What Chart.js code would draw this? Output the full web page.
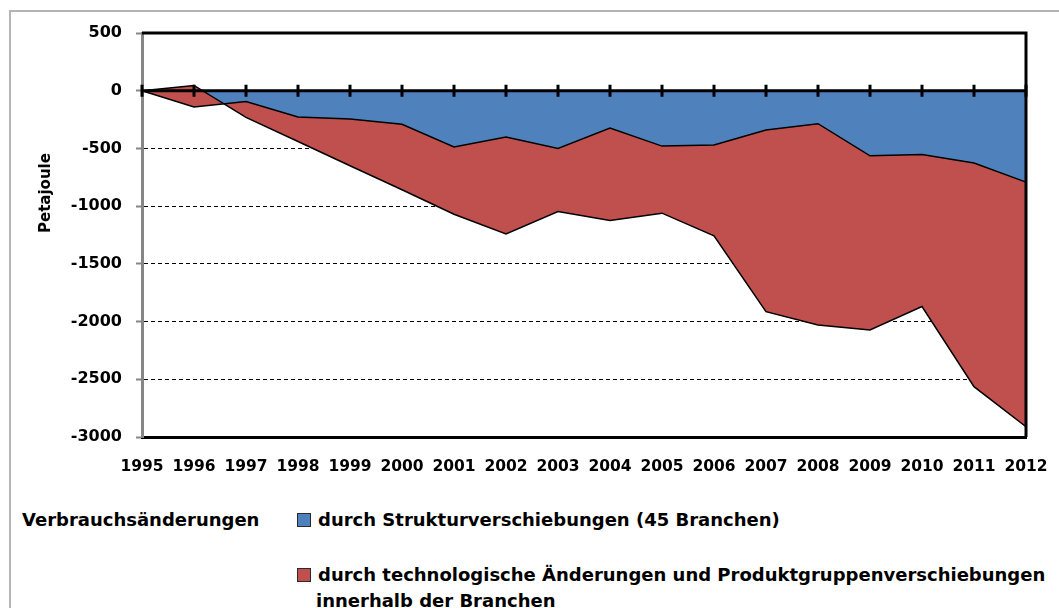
<!DOCTYPE html>
<html lang="de">
<head>
<meta charset="utf-8">
<title>Verbrauchsänderungen</title>
<script src="https://cdn.jsdelivr.net/npm/chart.js@4.4.1/dist/chart.umd.min.js"></script>
<style>
  html, body { margin: 0; padding: 0; background: #fff; }
  body { width: 1059px; height: 608px; position: relative; overflow: hidden;
         font-family: "DejaVu Sans", sans-serif; font-weight: bold; color: #000; }
  #rahmen { position: absolute; left: 9px; top: 10px; width: 1070px; height: 620px;
            border: 2px solid #b4b4b4; box-sizing: border-box; }
  #chart-box { position: absolute; left: 0; top: 0; width: 1059px; height: 490px; }
  .legende { position: absolute; font-size: 18px; line-height: 22px; white-space: nowrap; }
  .kasten { position: absolute; width: 12px; height: 12px; border: 1px solid #2a2a2a; }
  #y-titel { position: absolute; left: 45px; top: 193px; font-size: 15px; white-space: nowrap;
             transform: translate(-50%, -50%) rotate(-90deg); }
</style>
</head>
<body>
<div id="rahmen"></div>
<div id="chart-box"><canvas id="chart"></canvas></div>
<div id="y-titel">Petajoule</div>

<div class="legende" style="left:22px; top:509px;">Verbrauchsänderungen</div>
<div class="kasten" id="kasten-struktur" style="left:297px; top:513px;"></div>
<div class="legende" id="text-struktur" style="left:318px; top:509px;"></div>
<div class="kasten" id="kasten-technik" style="left:297px; top:568px;"></div>
<div class="legende" id="text-technik" style="left:318px; top:564px;"></div>
<div class="legende" id="text-technik2" style="left:316px; top:590px;"></div>

<script>
// Werte (Petajoule)
const jahre = ['1995', '1996', '1997', '1998', '1999', '2000', '2001', '2002', '2003',
               '2004', '2005', '2006', '2007', '2008', '2009', '2010', '2011', '2012'];

// obere Linie: Strukturverschiebungen
const struktur = [0, -140, -93, -228, -245, -290, -488, -402, -500,
                  -324, -480, -471, -341, -286, -564, -552, -627, -792];

// untere Linie: Gesamtänderung (Struktur + Technik)
const gesamt = [0, 46, -231, -440, -650, -858, -1070, -1240, -1047,
                -1125, -1061, -1258, -1914, -2030, -2073, -1870, -2564, -2911];

const yTicks = [500, 0, -500, -1000, -1500, -2000, -2500, -3000];

const labelStruktur = 'durch Strukturverschiebungen (45 Branchen)';
const labelTechnik = 'durch technologische Änderungen und Produktgruppenverschiebungen';
const labelTechnik2 = 'innerhalb der Branchen';

const farbeBlau = '#4F81BD';
const farbeRot = '#C0504D';

document.getElementById('text-struktur').textContent = labelStruktur;
document.getElementById('text-technik').textContent = labelTechnik;
document.getElementById('text-technik2').textContent = labelTechnik2;
document.getElementById('kasten-struktur').style.background = farbeBlau;
document.getElementById('kasten-technik').style.background = farbeRot;

// Nulllinie mit Teilstrichen und schwarzer Rahmen oben/rechts
const nulllinie = {
    id: 'nulllinie',
    afterDatasetsDraw(chart) {
        const { ctx, chartArea: a, scales: { x, y } } = chart;
        const y0 = y.getPixelForValue(0);
        ctx.save();
        ctx.strokeStyle = '#000';
        ctx.lineWidth = 3;
        ctx.beginPath();
        ctx.moveTo(a.left, y0);
        ctx.lineTo(a.right, y0);
        ctx.moveTo(a.left, a.top);
        ctx.lineTo(a.right, a.top);
        ctx.lineTo(a.right, a.bottom);
        ctx.stroke();
        ctx.beginPath();
        jahre.forEach((j, i) => {
            const px = x.getPixelForValue(i);
            ctx.moveTo(px, y0 - 6);
            ctx.lineTo(px, y0 + 6);
        });
        ctx.stroke();
        ctx.restore();
    }
};

const ctx = document.getElementById('chart').getContext('2d');
new Chart(ctx, {
    type: 'line',
    data: {
        labels: jahre,
        datasets: [
            {
                label: labelTechnik + ' ' + labelTechnik2,
                data: gesamt,
                backgroundColor: farbeRot,
                borderColor: '#000',
                borderWidth: 1.5,
                pointRadius: 0,
                tension: 0,
                fill: 1
            },
            {
                label: labelStruktur,
                data: struktur,
                backgroundColor: farbeBlau,
                borderColor: '#000',
                borderWidth: 1.5,
                pointRadius: 0,
                tension: 0,
                fill: 'origin'
            }
        ]
    },
    options: {
        responsive: true,
        maintainAspectRatio: false,
        animation: false,
        layout: { padding: { left: 0, top: 33, right: 33, bottom: 0 } },
        plugins: {
            legend: { display: false },
            tooltip: { enabled: false },
            filler: { drawTime: 'beforeDatasetsDraw' }
        },
        scales: {
            x: {
                offset: false,
                grid: { display: false, drawTicks: false },
                border: { display: true, color: '#000', width: 3 },
                ticks: {
                    autoSkip: false,
                    maxRotation: 0,
                    padding: 21,
                    color: '#000',
                    font: { family: 'DejaVu Sans', weight: 'bold', size: 15.5 }
                },
                afterFit: (scale) => {
                    scale.height = 53;
                    scale.paddingLeft = 0;
                    scale.paddingRight = 0;
                }
            },
            y: {
                min: -3000,
                max: 500,
                afterBuildTicks: (scale) => {
                    scale.ticks = yTicks.map(v => ({ value: v }));
                },
                grid: {
                    color: '#000',
                    lineWidth: 1,
                    drawTicks: true,
                    tickLength: 6,
                    tickColor: '#868686',
                    tickWidth: 2
                },
                border: { display: true, color: '#868686', width: 3, dash: [4, 3] },
                ticks: {
                    padding: 14,
                    color: '#000',
                    font: { family: 'DejaVu Sans', weight: 'bold', size: 16 },
                    callback: (value) => String(value)
                },
                afterFit: (scale) => { scale.width = 142; }
            }
        }
    },
    plugins: [nulllinie]
});
</script>
</body>
</html>
